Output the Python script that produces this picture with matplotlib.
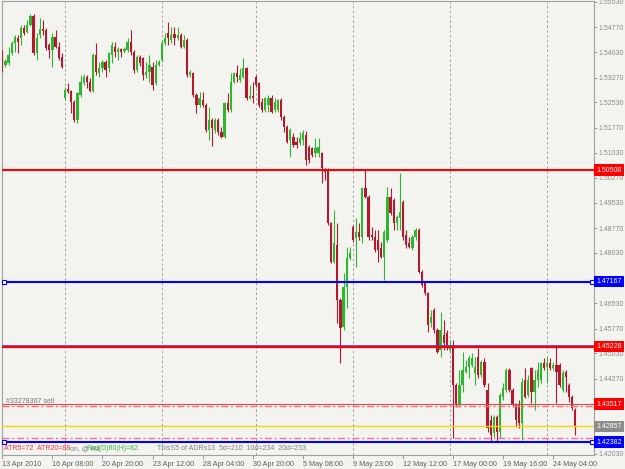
import numpy as np
import matplotlib
matplotlib.use("Agg")
import matplotlib.pyplot as plt
from matplotlib.transforms import blended_transform_factory

# H4 candles
opens = [
    1.5403, 1.5365, 1.5370, 1.5400, 1.5430, 1.5445, 1.5445, 1.5475, 1.5463, 1.5484,
    1.5511, 1.5400, 1.5454, 1.5472, 1.5469, 1.5424, 1.5409, 1.5448, 1.5418, 1.5388,
    1.5266, 1.5293, 1.5287, 1.5254, 1.5200, 1.5275, 1.5311, 1.5329, 1.5314, 1.5287,
    1.5394, 1.5341, 1.5356, 1.5373, 1.5356, 1.5394, 1.5418, 1.5403, 1.5412, 1.5406,
    1.5409, 1.5433, 1.5403, 1.5350, 1.5388, 1.5385, 1.5335, 1.5344, 1.5359, 1.5311,
    1.5365, 1.5379, 1.5430, 1.5460, 1.5439, 1.5457, 1.5445, 1.5454, 1.5418, 1.5439,
    1.5335, 1.5341, 1.5275, 1.5245, 1.5260, 1.5245, 1.5170, 1.5200, 1.5170, 1.5200,
    1.5164, 1.5149, 1.5251, 1.5230, 1.5314, 1.5341, 1.5320, 1.5329, 1.5356, 1.5266,
    1.5272, 1.5329, 1.5311, 1.5254, 1.5230, 1.5245, 1.5266, 1.5230, 1.5230, 1.5260,
    1.5209, 1.5179, 1.5140, 1.5149, 1.5134, 1.5131, 1.5140, 1.5155, 1.5120, 1.5117,
    1.5102, 1.5102, 1.5102, 1.5051, 1.5051, 1.4892, 1.4776, 1.4827, 1.4662, 1.4582,
    1.4701, 1.4788, 1.4881, 1.4848, 1.4866, 1.4851, 1.4997, 1.4970, 1.4857, 1.4851,
    1.4842, 1.4818, 1.4791, 1.4842, 1.4970, 1.4961, 1.4892, 1.4907, 1.4955, 1.4857,
    1.4833, 1.4818, 1.4851, 1.4872, 1.4746, 1.4713, 1.4683, 1.4594, 1.4633, 1.4573,
    1.4513, 1.4558, 1.4564, 1.4513, 1.4528, 1.4409, 1.4349, 1.4409, 1.4447, 1.4462,
    1.4468, 1.4444, 1.4492, 1.4438, 1.4477, 1.4394, 1.4304, 1.4265, 1.4313, 1.4268,
    1.4373, 1.4394, 1.4453, 1.4394, 1.4349, 1.4349, 1.4295, 1.4423, 1.4379, 1.4459,
    1.4388, 1.4423, 1.4423, 1.4474, 1.4462, 1.4474, 1.4459, 1.4468, 1.4468, 1.4394,
    1.4447, 1.4409, 1.4373, 1.4334,
]
highs = [
    1.5409, 1.5382, 1.5418, 1.5436, 1.5454, 1.5454, 1.5484, 1.5484, 1.5499, 1.5517,
    1.5517, 1.5460, 1.5505, 1.5499, 1.5475, 1.5430, 1.5460, 1.5469, 1.5433, 1.5400,
    1.5299, 1.5311, 1.5290, 1.5260, 1.5284, 1.5335, 1.5338, 1.5335, 1.5326, 1.5400,
    1.5430, 1.5373, 1.5379, 1.5379, 1.5403, 1.5433, 1.5433, 1.5418, 1.5415, 1.5418,
    1.5445, 1.5469, 1.5409, 1.5394, 1.5394, 1.5388, 1.5373, 1.5394, 1.5373, 1.5379,
    1.5379, 1.5439, 1.5460, 1.5493, 1.5478, 1.5478, 1.5478, 1.5460, 1.5454, 1.5445,
    1.5350, 1.5344, 1.5281, 1.5284, 1.5284, 1.5251, 1.5239, 1.5206, 1.5206, 1.5206,
    1.5179, 1.5254, 1.5281, 1.5341, 1.5344, 1.5365, 1.5356, 1.5385, 1.5359, 1.5305,
    1.5314, 1.5335, 1.5314, 1.5266, 1.5269, 1.5275, 1.5275, 1.5266, 1.5263, 1.5266,
    1.5215, 1.5185, 1.5176, 1.5161, 1.5149, 1.5164, 1.5170, 1.5167, 1.5126, 1.5120,
    1.5146, 1.5146, 1.5105, 1.5057, 1.5057, 1.4895, 1.4931, 1.4892, 1.4668, 1.4743,
    1.4821, 1.4821, 1.4887, 1.4907, 1.4893, 1.5000, 1.5051, 1.4976, 1.4881, 1.4872,
    1.4872, 1.4836, 1.4872, 1.5000, 1.4997, 1.4967, 1.4916, 1.5042, 1.4961, 1.4872,
    1.4851, 1.4857, 1.4878, 1.4878, 1.4752, 1.4716, 1.4686, 1.4633, 1.4639, 1.4579,
    1.4627, 1.4603, 1.4573, 1.4543, 1.4543, 1.4414, 1.4453, 1.4507, 1.4483, 1.4498,
    1.4504, 1.4492, 1.4519, 1.4483, 1.4489, 1.4414, 1.4319, 1.4319, 1.4319, 1.4385,
    1.4414, 1.4459, 1.4459, 1.4400, 1.4355, 1.4364, 1.4429, 1.4459, 1.4438, 1.4462,
    1.4453, 1.4477, 1.4477, 1.4489, 1.4492, 1.4489, 1.4477, 1.4528, 1.4474, 1.4453,
    1.4453, 1.4414, 1.4379, 1.4340,
]
lows = [
    1.5344, 1.5359, 1.5365, 1.5394, 1.5403, 1.5400, 1.5424, 1.5454, 1.5460, 1.5481,
    1.5394, 1.5379, 1.5445, 1.5454, 1.5409, 1.5385, 1.5359, 1.5415, 1.5379, 1.5356,
    1.5260, 1.5281, 1.5221, 1.5194, 1.5191, 1.5269, 1.5305, 1.5296, 1.5284, 1.5284,
    1.5335, 1.5329, 1.5344, 1.5329, 1.5344, 1.5370, 1.5388, 1.5379, 1.5388, 1.5400,
    1.5403, 1.5394, 1.5341, 1.5344, 1.5362, 1.5320, 1.5326, 1.5314, 1.5290, 1.5305,
    1.5362, 1.5373, 1.5424, 1.5424, 1.5430, 1.5424, 1.5439, 1.5415, 1.5415, 1.5329,
    1.5329, 1.5269, 1.5221, 1.5239, 1.5239, 1.5164, 1.5140, 1.5123, 1.5161, 1.5155,
    1.5146, 1.5146, 1.5224, 1.5224, 1.5311, 1.5314, 1.5314, 1.5326, 1.5260, 1.5263,
    1.5251, 1.5299, 1.5239, 1.5224, 1.5224, 1.5224, 1.5221, 1.5224, 1.5224, 1.5200,
    1.5164, 1.5131, 1.5090, 1.5120, 1.5117, 1.5126, 1.5126, 1.5066, 1.5072, 1.5090,
    1.5090, 1.5090, 1.5012, 1.5021, 1.4887, 1.4773, 1.4773, 1.4594, 1.4474, 1.4573,
    1.4638, 1.4782, 1.4836, 1.4761, 1.4842, 1.4833, 1.4967, 1.4842, 1.4842, 1.4806,
    1.4776, 1.4788, 1.4722, 1.4836, 1.4916, 1.4872, 1.4872, 1.4872, 1.4842, 1.4818,
    1.4818, 1.4812, 1.4842, 1.4743, 1.4701, 1.4677, 1.4567, 1.4582, 1.4564, 1.4504,
    1.4492, 1.4513, 1.4513, 1.4507, 1.4250, 1.4343, 1.4343, 1.4388, 1.4444, 1.4429,
    1.4462, 1.4409, 1.4429, 1.4432, 1.4403, 1.4268, 1.4238, 1.4253, 1.4241, 1.4250,
    1.4364, 1.4388, 1.4388, 1.4343, 1.4283, 1.4280, 1.4244, 1.4370, 1.4373, 1.4355,
    1.4334, 1.4403, 1.4414, 1.4453, 1.4414, 1.4453, 1.4453, 1.4355, 1.4403, 1.4388,
    1.4388, 1.4358, 1.4334, 1.4259,
]
closes = [
    1.5365, 1.5376, 1.5394, 1.5430, 1.5448, 1.5433, 1.5475, 1.5460, 1.5484, 1.5511,
    1.5400, 1.5445, 1.5472, 1.5466, 1.5415, 1.5409, 1.5448, 1.5418, 1.5385, 1.5359,
    1.5290, 1.5284, 1.5254, 1.5200, 1.5281, 1.5314, 1.5329, 1.5314, 1.5287, 1.5394,
    1.5344, 1.5356, 1.5373, 1.5350, 1.5400, 1.5424, 1.5403, 1.5412, 1.5403, 1.5412,
    1.5433, 1.5403, 1.5350, 1.5388, 1.5370, 1.5335, 1.5344, 1.5365, 1.5305, 1.5365,
    1.5373, 1.5430, 1.5445, 1.5445, 1.5454, 1.5445, 1.5454, 1.5418, 1.5439, 1.5335,
    1.5344, 1.5275, 1.5245, 1.5266, 1.5245, 1.5170, 1.5200, 1.5176, 1.5200, 1.5164,
    1.5149, 1.5251, 1.5230, 1.5314, 1.5341, 1.5329, 1.5335, 1.5356, 1.5266, 1.5272,
    1.5266, 1.5305, 1.5245, 1.5230, 1.5266, 1.5266, 1.5224, 1.5254, 1.5260, 1.5209,
    1.5179, 1.5134, 1.5170, 1.5126, 1.5126, 1.5146, 1.5161, 1.5081, 1.5081, 1.5096,
    1.5117, 1.5120, 1.5057, 1.5045, 1.4892, 1.4776, 1.4833, 1.4662, 1.4579, 1.4701,
    1.4788, 1.4803, 1.4842, 1.4866, 1.4851, 1.4997, 1.4970, 1.4851, 1.4851, 1.4812,
    1.4812, 1.4791, 1.4866, 1.4970, 1.4922, 1.4892, 1.4910, 1.4925, 1.4851, 1.4827,
    1.4821, 1.4851, 1.4872, 1.4746, 1.4707, 1.4683, 1.4588, 1.4612, 1.4573, 1.4507,
    1.4573, 1.4534, 1.4519, 1.4528, 1.4409, 1.4349, 1.4409, 1.4453, 1.4462, 1.4489,
    1.4489, 1.4462, 1.4438, 1.4477, 1.4409, 1.4280, 1.4259, 1.4313, 1.4268, 1.4379,
    1.4400, 1.4453, 1.4394, 1.4349, 1.4304, 1.4295, 1.4417, 1.4373, 1.4423, 1.4388,
    1.4423, 1.4453, 1.4474, 1.4459, 1.4474, 1.4459, 1.4468, 1.4447, 1.4409, 1.4444,
    1.4432, 1.4373, 1.4340, 1.4283,
]

time_labels = ["13 Apr 2010", "16 Apr 08:00", "20 Apr 20:00", "23 Apr 12:00",
               "28 Apr 04:00", "30 Apr 20:00", "5 May 08:00", "9 May 23:00",
               "12 May 12:00", "17 May 00:00", "19 May 16:00", "24 May 04:00"]
label_bars = [0, 16, 32, 48, 64, 80, 96, 112, 128, 144, 160, 176]
week_bars = [20, 51, 81, 112, 143, 174]

# scale labels (the ones at 1.43530 / 1.42770 sit under the level boxes)
price_ticks = [1.5553, 1.5477, 1.5403, 1.5327, 1.5253, 1.5177, 1.5103, 1.5027,
               1.4953, 1.4877, 1.4803, 1.4727, 1.4653, 1.4577, 1.4503, 1.4427,
               1.4203]

resist_hi = 1.50508
mid_blue = 1.47167
resist_lo = 1.45228
sell_level = 1.43517
yellow_level = 1.42857
low_blue = 1.42382
sl_band = [1.43445, 1.42511]

bg = "#f3f4f0"
bull = "#2fb62f"
bear = "#b5172c"
font = "Liberation Sans"
fs = 5.0

fig = plt.figure(figsize=(6.25, 4.69), dpi=100, facecolor=bg)
ax = fig.add_axes([2 / 625, 14 / 469, 592 / 625, 453.5 / 469])
ax.set_facecolor(bg)

x = np.arange(len(closes))
o = np.array(opens)
h = np.array(highs)
l = np.array(lows)
c = np.array(closes)
up = c >= o

ax.vlines(x[up], l[up], h[up], color=bull, lw=0.8, zorder=3)
ax.vlines(x[~up], l[~up], h[~up], color=bear, lw=0.8, zorder=3)
ax.bar(x[up], np.maximum(c[up] - o[up], 0.00012), bottom=o[up], width=0.72,
       color=bull, lw=0, zorder=4)
ax.bar(x[~up], np.maximum(o[~up] - c[~up], 0.00012), bottom=c[~up], width=0.72,
       color=bear, lw=0, zorder=4)

for b in week_bars:
    ax.axvline(b, color="#a89f9f", lw=0.7, ls=(0, (2.5, 2.5)), zorder=1)

ax.set_xlim(-0.1, 189.0)
ax.set_ylim(1.41994, 1.55542)

# levels
ax.axhline(resist_hi, color="#ff0000", lw=1.5, zorder=5)
ax.axhline(mid_blue, color="#0000ff", lw=1.5, zorder=5)
ax.axhline(resist_lo, color="#ff0000", lw=1.6, zorder=5)
ax.axhline(resist_lo + 0.0005, color="#4040ff", lw=0.6, zorder=5)
ax.axhline(sell_level, color="#e04848", lw=0.8, zorder=5)
ax.axhline(yellow_level, color="#ffd200", lw=1.0, zorder=5)
for p in sl_band:
    ax.axhline(p, color="#ff6f80", lw=1.0, ls=(0, (5, 2, 1.5, 2)), zorder=5)
ax.axhline(low_blue, color="#0000ff", lw=1.5, zorder=5)

trans = blended_transform_factory(ax.transAxes, ax.transData)
for p in [mid_blue, low_blue]:
    ax.plot([0.003, 0.996], [p, p], transform=trans, ls="none", marker="s",
            ms=3, mfc="white", mec="#0000ff", mew=0.8, zorder=6, clip_on=False)

ax.text(0.006, sell_level + 0.0009, "#33278367 sell", transform=trans,
        fontsize=fs, family=font, color="#777777", va="center", zorder=6)

# price boxes on the right scale
boxes = [(resist_hi, "#ff0000"), (mid_blue, "#0000ff"), (resist_lo, "#ff0000"),
         (sell_level, "#ff0000"), (yellow_level, "#8c8c8c"), (low_blue, "#0000ff")]
for p, col in boxes:
    ax.text(1.004, p, f"{p:.5f}", transform=trans, fontsize=fs, family=font,
            color="white", va="center", ha="left", zorder=10,
            bbox=dict(boxstyle="square,pad=0.3", fc=col, ec="none"))

# status line at the bottom of the chart (the indicator texts overprint)
ax.text(0.003, 1.4218, "ATR5=72  ATR20=88", transform=trans, fontsize=fs,
        family=font, color="#ff3030", va="center", zorder=6)
ax.text(0.115, 1.4218, "on, @ Ra", transform=trans, fontsize=fs,
        family=font, color="#808080", va="center", zorder=6)
ax.text(0.143, 1.4218, "Rad(D)80(H)=82", transform=trans, fontsize=fs,
        family=font, color="#3cb43c", va="center", zorder=6)
ax.text(0.262, 1.4218, "ThisS5 of ADRs13  5d=210  10d=234  20d=233",
        transform=trans, fontsize=fs, family=font, color="#808080",
        va="center", zorder=6)

# axes styling
ax.yaxis.tick_right()
ax.set_yticks(price_ticks)
ax.set_yticklabels([f"{p:.5f}" for p in price_ticks], family=font, fontsize=fs)
ax.tick_params(axis="y", length=2.5, width=0.6, pad=1.0, colors="#8a8a8a",
               labelcolor="#8a8a8a")
ax.set_xticks(label_bars)
ax.set_xticklabels(time_labels, ha="left", family=font, fontsize=5.2)
ax.tick_params(axis="x", length=3, width=0.6, pad=1, colors="#8a8a8a",
               labelcolor="#606060")
for s in ax.spines.values():
    s.set_color("#a0a0a0")
    s.set_linewidth(0.8)

fig.savefig("out.png", dpi=100, facecolor=bg)
